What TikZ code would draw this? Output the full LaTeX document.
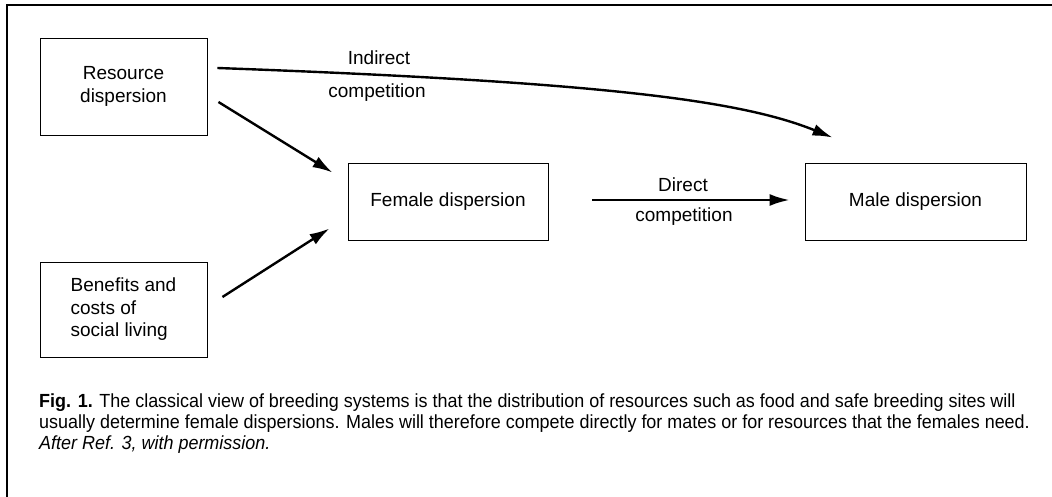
\documentclass[tikz,border=0pt]{standalone}
\usepackage{fontspec}
\setmainfont{Liberation Sans}
\newfontfamily\capfont[FakeStretch=0.945]{Liberation Sans}
\usetikzlibrary{arrows.meta,calc}
\begin{document}
\begin{tikzpicture}[x=1pt,y=-1pt,
  box/.style={draw,line width=0.9pt,inner sep=0pt,font=\fontsize{19}{22.5}\selectfont},
  lbl/.style={inner sep=0pt,font=\fontsize{19}{22}\selectfont},
  arr/.style={line width=2.4pt,-{Latex[length=20pt,width=12pt]}},
  captxt/.style={inner sep=0pt,anchor=base west,font=\capfont\fontsize{19}{20}\selectfont}]
\useasboundingbox (0,0) rectangle (1052,497);
% frame
\draw[line width=1.5pt] (7,497) -- (7,5) -- (1052,5);
% boxes
\node[box,minimum width=167pt,minimum height=97pt,align=center] (res) at (123.5,86.5) {Resource\\dispersion};
\node[box,minimum width=167pt,minimum height=95pt,align=left] (ben) at (123.5,309.5) {Benefits and\\costs of\\social living};
\node[box,minimum width=200pt,minimum height=77pt] (fem) at (448,201.5) {Female dispersion};
\node[box,minimum width=221pt,minimum height=77pt] (male) at (915.5,201.5) {Male dispersion};
% connectors
\coordinate (indend) at ($(male.north west)+(28,-25)$);
\draw[arr] ($(res.east)+(10,-18.5)$) .. controls (600,82) and (740,100) .. (indend);
\draw[arr] ($(res.east)+(11,15.5)$) -- ($(fem.north west)+(-15,10)$);
\draw[arr] ($(ben.east)+(15,-12.5)$) -- ($(fem.south west)+(-18,-12)$);
\draw[arr] ($(fem.east)+(44,-1.5)$) -- ($(male.west)+(-15,-1.5)$);
% labels
\node[lbl] (indA) at (379,58) {Indirect};
\node[lbl] (indB) at (377,93) {competition};
\node[lbl] (dirA) at (683,185) {Direct};
\node[lbl] (dirB) at (684,217) {competition};
% caption
\node[captxt] (c1) at (39,407) {\textbf{Fig. 1.} The classical view of breeding systems is that the distribution of resources such as food and safe breeding sites will};
\node[captxt] (c2) at (39,428) {usually determine female dispersions. Males will therefore compete directly for mates or for resources that the females need.};
\node[captxt] (c3) at (39,449) {\itshape After Ref. 3, with permission.};
\end{tikzpicture}
\end{document}
